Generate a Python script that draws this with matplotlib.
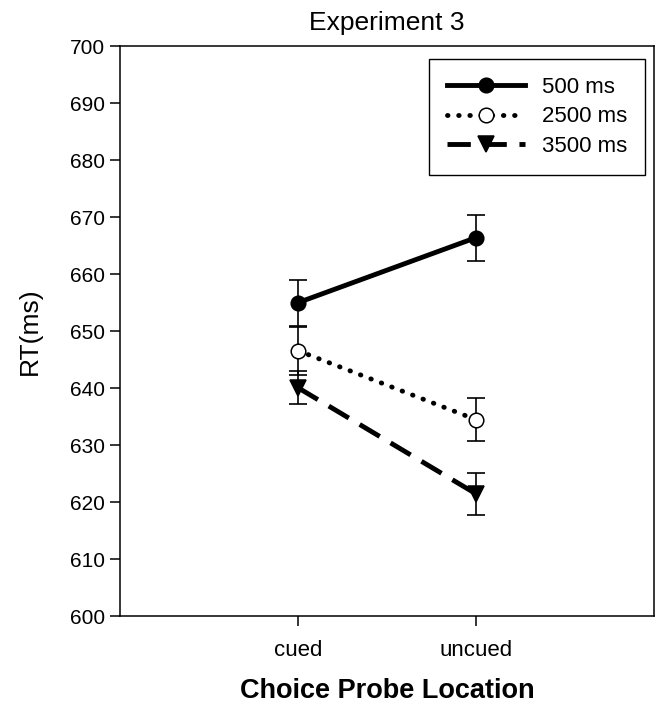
import matplotlib.pyplot as plt
import matplotlib as mpl

mpl.rc('font', family=['Liberation Sans', 'DejaVu Sans'])

# datos
ubicaciones = ['cued', 'uncued']
x_pos = [1, 2]
series = ['500 ms', '2500 ms', '3500 ms']
rt_500 = [655.0, 666.4]
err_500 = [4.0, 4.0]
rt_2500 = [646.6, 634.5]
err_2500 = [4.2, 3.8]
rt_3500 = [640.1, 621.5]
err_3500 = [2.9, 3.7]

estilos = [
    dict(ls='-', marker='o', mfc='black', lw=3.5, ms=10.5),
    dict(ls=(0, (0.1, 2.2)), marker='o', mfc='white', lw=3.5, ms=10.5,
         dash_capstyle='round'),
    dict(ls=(0, (4.8, 2.6)), marker='v', mfc='black', lw=3.5, ms=11.5),
]

fig = plt.figure(figsize=(6.59, 7.10), dpi=100)
ax = fig.add_axes([0.182, 0.132, 0.810, 0.803])

for rt, err, nombre, est in zip([rt_500, rt_2500, rt_3500],
                               [err_500, err_2500, err_3500], series, estilos):
    ax.errorbar(x_pos, rt, yerr=err, fmt='none', ecolor='black',
                elinewidth=1.2, capsize=6.5, capthick=1.2, zorder=2)
    ax.plot(x_pos, rt, color='black', mec='black', mew=1.1,
            label=nombre, zorder=3, **est)

ax.set_xlim(0, 3)
ax.set_ylim(600, 700)
ax.set_yticks(range(600, 701, 10))
ax.set_xticks(x_pos)
ax.set_xticklabels(ubicaciones)
ax.tick_params(axis='y', direction='out', length=7, width=1.1, pad=4,
               labelsize=15)
ax.tick_params(axis='x', direction='out', length=7, width=1.1, pad=10,
               labelsize=16)
for s in ax.spines.values():
    s.set_linewidth(1.1)

ax.set_title('Experiment 3', fontsize=19, pad=11.5)
ax.set_ylabel('RT(ms)', fontsize=19, labelpad=20)
ax.set_xlabel('Choice Probe Location', fontsize=19.5, fontweight='bold',
              labelpad=12)

leg = ax.legend(loc='upper right', bbox_to_anchor=(0.983, 0.977),
                fontsize=16, numpoints=1, handlelength=3.5,
                fancybox=False, framealpha=1, edgecolor='black',
                borderpad=0.8, labelspacing=0.38, handletextpad=0.75,
                borderaxespad=0)
leg.get_frame().set_linewidth(1.0)

fig.savefig('out.png', dpi=100)
